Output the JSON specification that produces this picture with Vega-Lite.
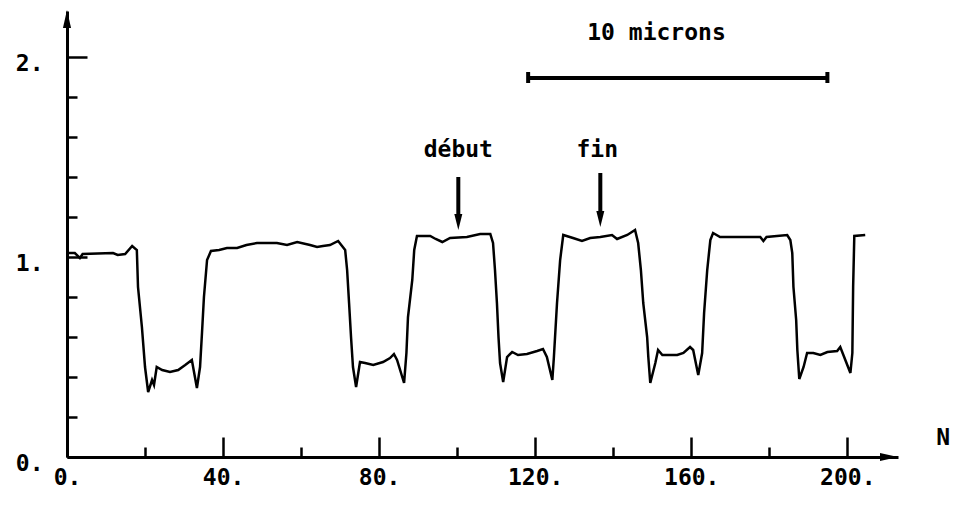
{
  "$schema": "https://vega.github.io/schema/vega-lite/v6.json",
  "width": 831,
  "height": 446,
  "autosize": {"type": "none"},
  "padding": {"left": 67, "top": 11, "right": 58, "bottom": 49},
  "background": "white",
  "config": {"view": {"stroke": null}, "font": "DejaVu Sans Mono"},
  "datasets": {
    "signal": [
      {"n": 0.5, "v": 1.02}, {"n": 2, "v": 1.02}, {"n": 3.3, "v": 0.995}, {"n": 4, "v": 1.015},
      {"n": 11.8, "v": 1.02}, {"n": 13, "v": 1.01}, {"n": 14.9, "v": 1.015}, {"n": 16.7, "v": 1.055},
      {"n": 17.9, "v": 1.035}, {"n": 18.2, "v": 0.85}, {"n": 19.2, "v": 0.65}, {"n": 20, "v": 0.45},
      {"n": 20.8, "v": 0.325}, {"n": 21.8, "v": 0.385}, {"n": 22.3, "v": 0.36}, {"n": 23, "v": 0.45},
      {"n": 24.4, "v": 0.435}, {"n": 26.4, "v": 0.425}, {"n": 28.5, "v": 0.435}, {"n": 30.3, "v": 0.46},
      {"n": 32, "v": 0.485}, {"n": 33.3, "v": 0.345}, {"n": 34.1, "v": 0.45}, {"n": 34.6, "v": 0.62},
      {"n": 35.1, "v": 0.8}, {"n": 35.9, "v": 0.985}, {"n": 36.9, "v": 1.03}, {"n": 39, "v": 1.035},
      {"n": 41, "v": 1.045}, {"n": 43.6, "v": 1.045}, {"n": 46, "v": 1.06}, {"n": 48.7, "v": 1.07},
      {"n": 50.3, "v": 1.07}, {"n": 53.8, "v": 1.07}, {"n": 56.4, "v": 1.06}, {"n": 59, "v": 1.075},
      {"n": 62.3, "v": 1.06}, {"n": 64.1, "v": 1.05}, {"n": 65.6, "v": 1.055}, {"n": 67.4, "v": 1.06},
      {"n": 69.5, "v": 1.08}, {"n": 71.3, "v": 1.035}, {"n": 71.8, "v": 0.935}, {"n": 72.3, "v": 0.77},
      {"n": 72.8, "v": 0.6}, {"n": 73.3, "v": 0.45}, {"n": 74.1, "v": 0.35}, {"n": 75.1, "v": 0.475},
      {"n": 76.4, "v": 0.47}, {"n": 78.5, "v": 0.46}, {"n": 81, "v": 0.475}, {"n": 82.8, "v": 0.495},
      {"n": 83.8, "v": 0.515}, {"n": 84.6, "v": 0.485}, {"n": 86.4, "v": 0.37}, {"n": 87, "v": 0.52},
      {"n": 87.4, "v": 0.7}, {"n": 88.5, "v": 0.885}, {"n": 89, "v": 1.035}, {"n": 89.7, "v": 1.105},
      {"n": 93.1, "v": 1.105}, {"n": 94.5, "v": 1.09}, {"n": 96.2, "v": 1.075}, {"n": 98.2, "v": 1.095},
      {"n": 102.5, "v": 1.1}, {"n": 105.9, "v": 1.115}, {"n": 108.5, "v": 1.115}, {"n": 109.2, "v": 1.07},
      {"n": 109.7, "v": 0.935}, {"n": 110.2, "v": 0.77}, {"n": 110.6, "v": 0.6}, {"n": 111, "v": 0.47},
      {"n": 111.8, "v": 0.375}, {"n": 112.8, "v": 0.5}, {"n": 114.1, "v": 0.525}, {"n": 115.6, "v": 0.51},
      {"n": 117.9, "v": 0.515}, {"n": 120.5, "v": 0.53}, {"n": 122, "v": 0.54}, {"n": 123, "v": 0.5},
      {"n": 124.4, "v": 0.385}, {"n": 124.8, "v": 0.5}, {"n": 125.6, "v": 0.77}, {"n": 126.4, "v": 0.985},
      {"n": 127.2, "v": 1.11}, {"n": 129.7, "v": 1.095}, {"n": 132, "v": 1.08}, {"n": 134.1, "v": 1.095},
      {"n": 136.7, "v": 1.1}, {"n": 139.7, "v": 1.11}, {"n": 141, "v": 1.09}, {"n": 143.6, "v": 1.11},
      {"n": 145.6, "v": 1.135}, {"n": 146.4, "v": 1.07}, {"n": 147.1, "v": 0.935}, {"n": 147.7, "v": 0.77},
      {"n": 148.7, "v": 0.6}, {"n": 149, "v": 0.5}, {"n": 149.5, "v": 0.37}, {"n": 150.8, "v": 0.47},
      {"n": 151.5, "v": 0.535}, {"n": 152.6, "v": 0.51}, {"n": 156.4, "v": 0.51}, {"n": 158, "v": 0.52},
      {"n": 159.7, "v": 0.55}, {"n": 160.5, "v": 0.535}, {"n": 161.8, "v": 0.41}, {"n": 162.8, "v": 0.52},
      {"n": 163.3, "v": 0.72}, {"n": 164.1, "v": 0.935}, {"n": 164.9, "v": 1.085}, {"n": 165.6, "v": 1.12},
      {"n": 167.4, "v": 1.1}, {"n": 177.7, "v": 1.1}, {"n": 178.5, "v": 1.08}, {"n": 179.3, "v": 1.1},
      {"n": 184.6, "v": 1.11}, {"n": 185.4, "v": 1.085}, {"n": 185.9, "v": 1.02}, {"n": 186.2, "v": 0.85},
      {"n": 186.9, "v": 0.685}, {"n": 187.2, "v": 0.535}, {"n": 187.7, "v": 0.39}, {"n": 188.8, "v": 0.45},
      {"n": 189.7, "v": 0.52}, {"n": 191.3, "v": 0.52}, {"n": 193.1, "v": 0.51}, {"n": 194.9, "v": 0.525},
      {"n": 197.4, "v": 0.53}, {"n": 198.2, "v": 0.55}, {"n": 199, "v": 0.51}, {"n": 200.8, "v": 0.42},
      {"n": 201.3, "v": 0.52}, {"n": 201.5, "v": 0.85}, {"n": 201.8, "v": 1.105}, {"n": 204.6, "v": 1.11}
    ],
    "segments": [
      {"n": 118.2, "n2": 194.9, "v": 1.895, "v2": 1.895},
      {"n": 118.2, "n2": 118.2, "v": 1.87, "v2": 1.925},
      {"n": 194.9, "n2": 194.9, "v": 1.87, "v2": 1.925},
      {"n": 100.3, "n2": 100.3, "v": 1.40, "v2": 1.19},
      {"n": 136.7, "n2": 136.7, "v": 1.42, "v2": 1.21}
    ],
    "downArrows": [
      {"n": 100.3, "v": 1.175},
      {"n": 136.7, "v": 1.19}
    ],
    "upArrow": [{"n": 0, "v": 2.19}],
    "rightArrow": [{"n": 210.7, "v": 0}],
    "texts": [
      {"n": 151.1, "v": 2.12, "label": "10 microns"},
      {"n": 100.3, "v": 1.535, "label": "début"},
      {"n": 135.9, "v": 1.535, "label": "fin"},
      {"n": 224.6, "v": 0.095, "label": "N"}
    ]
  },
  "encoding": {
    "x": {
      "field": "n",
      "type": "quantitative",
      "scale": {"domain": [0, 213], "nice": false, "zero": true},
      "axis": {
        "title": null,
        "grid": false,
        "values": [0, 20, 40, 60, 80, 100, 120, 140, 160, 180, 200],
        "domainColor": "black",
        "domainWidth": 3,
        "tickColor": "black",
        "tickWidth": 2.5,
        "tickSize": {"condition": {"test": "datum.value % 40 === 0", "value": -20}, "value": -10},
        "labelExpr": "datum.value % 40 === 0 ? datum.value + '.' : ''",
        "labelFont": "DejaVu Sans Mono",
        "labelFontSize": 23,
        "labelFontWeight": "bold",
        "labelColor": "black",
        "labelPadding": 29,
        "labelFlush": false,
        "labelOverlap": false
      }
    },
    "y": {
      "field": "v",
      "type": "quantitative",
      "scale": {"domain": [0, 2.23], "nice": false, "zero": true},
      "axis": {
        "title": null,
        "grid": false,
        "values": [0, 0.2, 0.4, 0.6, 0.8, 1, 1.2, 1.4, 1.6, 1.8, 2],
        "domainColor": "black",
        "domainWidth": 3,
        "tickColor": "black",
        "tickWidth": 2.5,
        "tickSize": {"condition": {"test": "datum.value % 1 === 0", "value": -20}, "value": -10},
        "labelExpr": "datum.value % 1 === 0 ? datum.value + '.' : ''",
        "labelFont": "DejaVu Sans Mono",
        "labelFontSize": 23,
        "labelFontWeight": "bold",
        "labelColor": "black",
        "labelPadding": 44,
        "labelOffset": 6,
        "labelFlush": false,
        "labelOverlap": false
      }
    }
  },
  "layer": [
    {
      "data": {"name": "signal"},
      "mark": {"type": "line", "color": "black", "strokeWidth": 2.5},
      "encoding": {}
    },
    {
      "data": {"name": "segments"},
      "mark": {"type": "rule", "color": "black", "strokeWidth": 4},
      "encoding": {
        "x2": {"field": "n2"},
        "y2": {"field": "v2"}
      }
    },
    {
      "data": {"name": "downArrows"},
      "mark": {"type": "point", "shape": "M-0.5,-1L0.5,-1L0,1Z", "filled": true, "size": 256, "color": "black", "opacity": 1},
      "encoding": {}
    },
    {
      "data": {"name": "upArrow"},
      "mark": {"type": "point", "shape": "M-0.45,1L0,-1L0.45,1Z", "filled": true, "size": 324, "color": "black", "opacity": 1},
      "encoding": {}
    },
    {
      "data": {"name": "rightArrow"},
      "mark": {"type": "point", "shape": "M-1,-0.45L1,0L-1,0.45Z", "filled": true, "size": 324, "color": "black", "opacity": 1},
      "encoding": {}
    },
    {
      "data": {"name": "texts"},
      "mark": {"type": "text", "font": "DejaVu Sans Mono", "fontSize": 23, "fontWeight": "bold", "color": "black", "align": "center", "baseline": "middle"},
      "encoding": {"text": {"field": "label"}}
    }
  ]
}
